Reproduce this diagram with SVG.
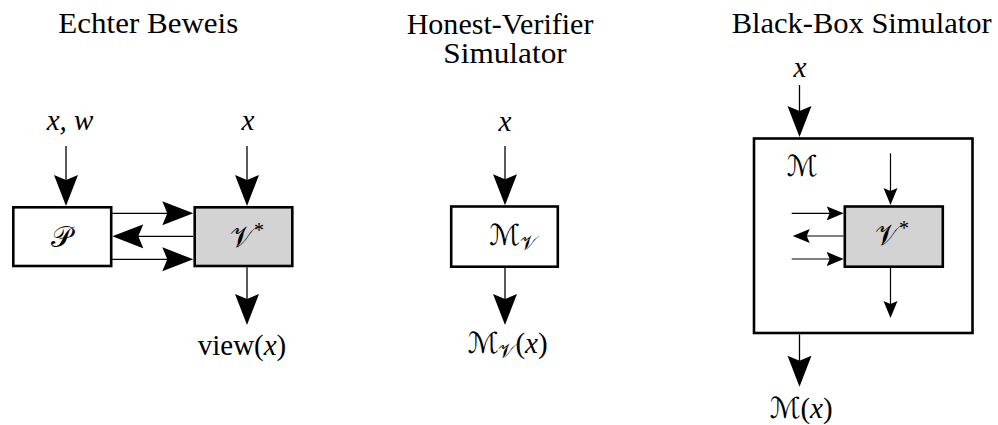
<svg xmlns="http://www.w3.org/2000/svg" width="998" height="425" viewBox="0 0 998 425">
  <style>
    .title { font-family: 'Liberation Serif', 'Times New Roman', Times, 'Noto Serif', 'DejaVu Serif', serif; font-size: 28.5px; fill: #000; }
    .lbl { font-family: 'Liberation Serif', 'Times New Roman', Times, 'Noto Serif', 'DejaVu Serif', serif; font-size: 29px; fill: #000; }
    .it { font-style: italic; }
    .cal { font-family: 'DejaVu Serif', 'DejaVu Sans', 'Liberation Serif', serif; font-style: normal; }
    .box { fill: #fff; stroke: #000; stroke-width: 2.6; }
    .gray { fill: #d3d3d3; stroke: #000; stroke-width: 2.6; }
    .big { stroke: #000; stroke-width: 1.3; fill: none; marker-end: url(#bigHead); }
    .small { stroke: #000; stroke-width: 1.2; fill: none; marker-end: url(#smallHead); }
  </style>
  <defs>
    <marker id="bigHead" markerUnits="userSpaceOnUse" markerWidth="32" markerHeight="26" refX="11" refY="12.5" orient="auto">
      <path d="M31,12.5 L0,0.5 L5,12.5 L0,24.5 Z" fill="#000"/>
    </marker>
    <marker id="smallHead" markerUnits="userSpaceOnUse" markerWidth="18" markerHeight="16" refX="7" refY="7.5" orient="auto">
      <path d="M17,7.5 L0,0.5 L3,7.5 L0,14.5 Z" fill="#000"/>
    </marker>
  </defs>

  <!-- Titles -->
  <g id="titles">
    <text class="title" font-family="Liberation Serif, serif" x="58.3" y="32.5" textLength="180" lengthAdjust="spacingAndGlyphs">Echter Beweis</text>
    <text class="title" font-family="Liberation Serif, serif" x="406.7" y="33.5" textLength="186.7" lengthAdjust="spacingAndGlyphs">Honest-Verifier</text>
    <text class="title" font-family="Liberation Serif, serif" x="443.3" y="62.5" textLength="123.4" lengthAdjust="spacingAndGlyphs">Simulator</text>
    <text class="title" font-family="Liberation Serif, serif" x="731.7" y="32.5" textLength="260" lengthAdjust="spacingAndGlyphs">Black-Box Simulator</text>
  </g>

  <!-- Left: real proof -->
  <g id="node-P">
    <rect class="box" x="13.3" y="207.3" width="97.9" height="58.7"/>
    <text class="lbl cal" x="61.5" y="246.5" text-anchor="middle">𝒫</text>
  </g>
  <g id="node-V-left">
    <rect class="gray" x="194.7" y="207.3" width="97.6" height="58.7"/>
    <text class="lbl" x="247" y="246.5" text-anchor="middle"><tspan class="cal">𝒱</tspan><tspan font-size="20" dy="-10">*</tspan></text>
  </g>
  <g id="label-xw"><text class="lbl it" x="70" y="130" text-anchor="middle">x, w</text></g>
  <g id="label-x-left"><text class="lbl it" x="248" y="130" text-anchor="middle">x</text></g>
  <g id="label-view"><text class="lbl" x="242" y="355" text-anchor="middle">view(<tspan class="it">x</tspan>)</text></g>

  <!-- Middle: honest-verifier simulator -->
  <g id="node-MV">
    <rect class="box" x="451.2" y="206.5" width="106.6" height="60.2"/>
    <text class="lbl" x="513" y="245" text-anchor="middle"><tspan class="cal">ℳ</tspan><tspan class="cal" font-size="20" dy="5">𝒱</tspan></text>
  </g>
  <g id="label-x-mid"><text class="lbl it" x="505" y="131" text-anchor="middle">x</text></g>
  <g id="label-MVx"><text class="lbl" x="507.5" y="353" text-anchor="middle"><tspan class="cal">ℳ</tspan><tspan class="cal" font-size="20" dy="5">𝒱</tspan><tspan dy="-5">(</tspan><tspan class="it">x</tspan>)</text></g>

  <!-- Right: black-box simulator -->
  <g id="node-M">
    <rect class="box" x="754" y="138.5" width="218.5" height="194.5"/>
    <text class="lbl cal" x="802" y="176" text-anchor="middle">ℳ</text>
  </g>
  <g id="node-V-right">
    <rect class="gray" x="844.8" y="206.5" width="98" height="60.2"/>
    <text class="lbl" x="892" y="244.5" text-anchor="middle"><tspan class="cal">𝒱</tspan><tspan font-size="20" dy="-10">*</tspan></text>
  </g>
  <g id="label-x-right"><text class="lbl it" x="800" y="77" text-anchor="middle">x</text></g>
  <g id="label-Mx"><text class="lbl" x="801" y="418" text-anchor="middle"><tspan class="cal">ℳ</tspan>(<tspan class="it">x</tspan>)</text></g>

  <!-- Connectors -->
  <g id="connectors">
    <!-- left -->
    <line class="big" x1="66" y1="146" x2="66" y2="186"/>
    <line class="big" x1="247" y1="146" x2="247" y2="186"/>
    <line class="big" x1="112" y1="213.3" x2="173.3" y2="213.3"/>
    <line class="big" x1="193.3" y1="236.3" x2="132.3" y2="236.3"/>
    <line class="big" x1="112" y1="259.3" x2="173.3" y2="259.3"/>
    <line class="big" x1="247" y1="267.3" x2="247" y2="305"/>
    <!-- middle -->
    <line class="big" x1="505" y1="146" x2="505" y2="185.3"/>
    <line class="big" x1="505" y1="267.5" x2="505" y2="305"/>
    <!-- right -->
    <line class="big" x1="799.5" y1="85" x2="799.5" y2="117"/>
    <line class="big" x1="799.5" y1="334.3" x2="799.5" y2="366.7"/>
    <line class="small" x1="791.7" y1="213.3" x2="833.7" y2="213.3"/>
    <line class="small" x1="843.5" y1="236" x2="802.7" y2="236"/>
    <line class="small" x1="791.7" y1="259" x2="833.7" y2="259"/>
    <line class="small" x1="890.5" y1="153.3" x2="890.5" y2="195"/>
    <line class="small" x1="890.5" y1="267.7" x2="890.5" y2="308"/>
  </g>
</svg>
